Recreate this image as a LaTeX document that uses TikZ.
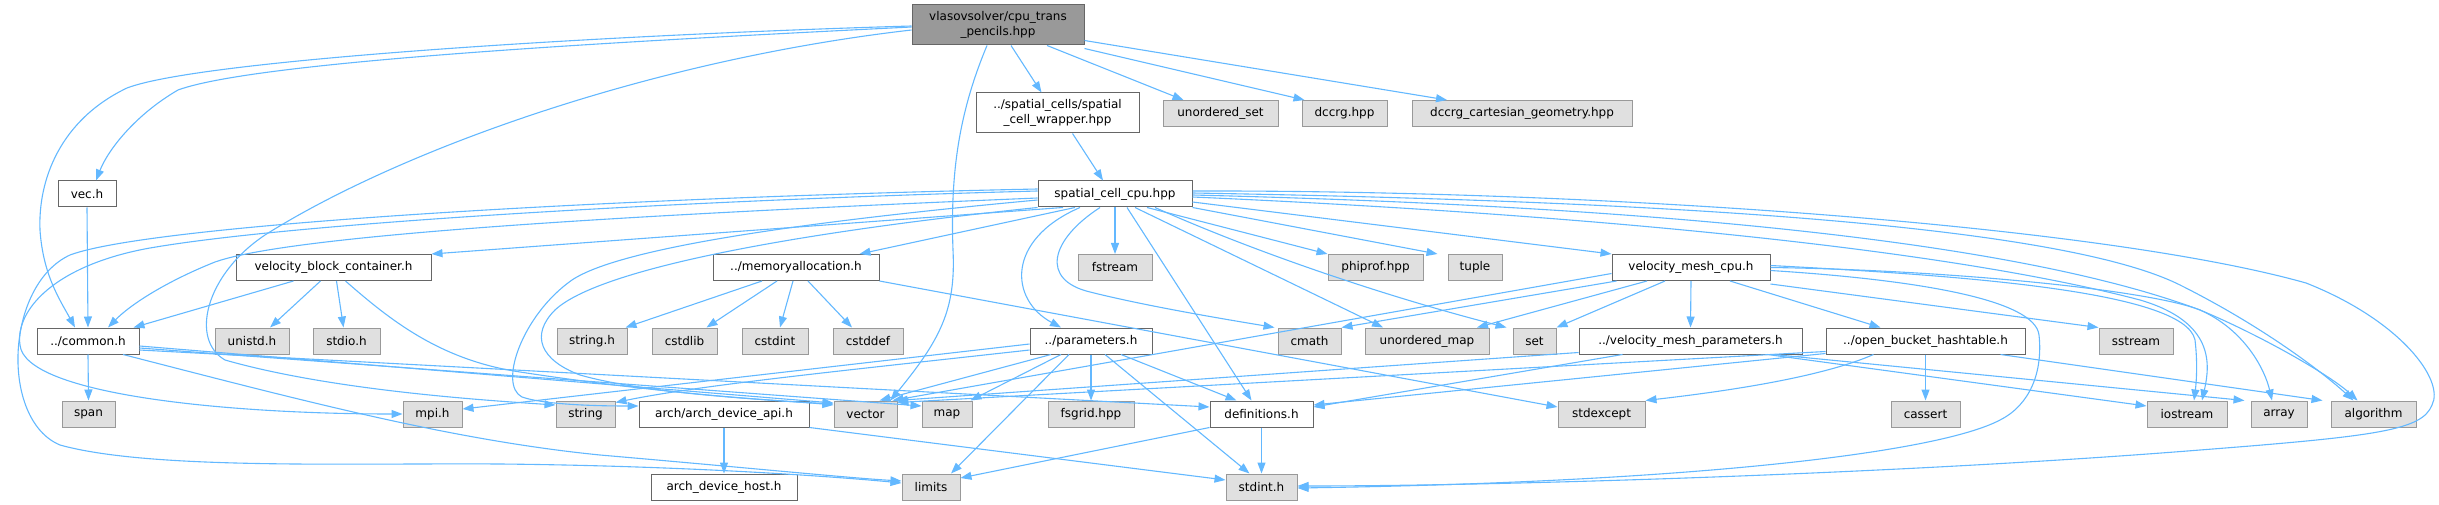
\documentclass[tikz,border=0pt]{standalone}
\usepackage{fontspec}
\setmainfont{DejaVu Sans}
\usetikzlibrary{arrows.meta}
\definecolor{edgec}{HTML}{63B8FF}
\definecolor{cdark}{HTML}{666666}
\definecolor{cmid}{HTML}{999999}
\definecolor{cfill}{HTML}{E0E0E0}
\tikzset{
  base/.style={draw, rectangle, line width=1pt, minimum height=26pt, inner sep=0pt,
    font=\fontsize{12}{15}\selectfont, text=black, align=center},
  wbox/.style={base, draw=cdark, fill=white},
  gbox/.style={base, draw=cmid, fill=cfill},
  rbox/.style={base, draw=cdark, fill=cmid},
  edge/.style={draw=edgec, line width=1.1pt, -{Triangle[length=11pt,width=8pt]}},
}
\begin{document}
\begin{tikzpicture}[x=1pt,y=-1pt]
\useasboundingbox (0,0) rectangle (2439,505);
% row 0
\node[rbox, minimum width=172pt, minimum height=40pt] (R) at (998,25) {vlasovsolver/cpu\_trans\\\_pencils.hpp};
% row 1
\node[wbox, minimum width=163pt, minimum height=40pt] (W) at (1057.5,113) {../spatial\_cells/spatial\\\_cell\_wrapper.hpp};
\node[gbox, minimum width=115pt] (US) at (1220.5,113.5) {unordered\_set};
\node[gbox, minimum width=85pt] (DC) at (1344.5,113.5) {dccrg.hpp};
\node[gbox, minimum width=220pt] (DCG) at (1522,113.5) {dccrg\_cartesian\_geometry.hpp};
% row 2
\node[wbox, minimum width=58pt] (vec) at (87,194) {vec.h};
\node[wbox, minimum width=154pt] (S) at (1115,194) {spatial\_cell\_cpu.hpp};
% row 3
\node[wbox, minimum width=195pt] (vbc) at (333.5,267.5) {velocity\_block\_container.h};
\node[wbox, minimum width=166pt] (M) at (796,267.5) {../memoryallocation.h};
\node[gbox, minimum width=74pt] (fstream) at (1115,267.5) {fstream};
\node[gbox, minimum width=95pt] (phiprof) at (1375.5,267.5) {phiprof.hpp};
\node[gbox, minimum width=54pt] (tuple) at (1475,267.5) {tuple};
\node[wbox, minimum width=158pt] (V) at (1691,267.5) {velocity\_mesh\_cpu.h};
% row 4
\node[wbox, minimum width=102pt] (common) at (88,341) {../common.h};
\node[gbox, minimum width=74pt] (unistd) at (252,341) {unistd.h};
\node[gbox, minimum width=67pt] (stdio) at (346.5,341) {stdio.h};
\node[gbox, minimum width=70pt] (stringh) at (592,341) {string.h};
\node[gbox, minimum width=65pt] (cstdlib) at (684.5,341) {cstdlib};
\node[gbox, minimum width=66pt] (cstdint) at (775,341) {cstdint};
\node[gbox, minimum width=70pt] (cstddef) at (868,341) {cstddef};
\node[wbox, minimum width=122pt] (P) at (1091,341) {../parameters.h};
\node[gbox, minimum width=63pt] (cmath) at (1309.5,341) {cmath};
\node[gbox, minimum width=124pt] (umap) at (1427,341) {unordered\_map};
\node[gbox, minimum width=43pt] (nset) at (1534.5,341) {set};
\node[wbox, minimum width=223pt] (vmp) at (1690.5,341) {../velocity\_mesh\_parameters.h};
\node[wbox, minimum width=199pt] (O) at (1925.5,341) {../open\_bucket\_hashtable.h};
\node[gbox, minimum width=74pt] (sstream) at (2136,341) {sstream};
% row 5
\node[gbox, minimum width=53pt] (span) at (88.5,414) {span};
\node[gbox, minimum width=59pt] (mpi) at (432.5,414) {mpi.h};
\node[gbox, minimum width=59pt] (nstring) at (585.5,414) {string};
\node[wbox, minimum width=170pt] (A) at (724,414) {arch/arch\_device\_api.h};
\node[gbox, minimum width=63pt] (nvector) at (865.5,414) {vector};
\node[gbox, minimum width=50pt] (nmap) at (947,414) {map};
\node[gbox, minimum width=86pt] (fsgrid) at (1091,414) {fsgrid.hpp};
\node[wbox, minimum width=103pt] (D) at (1261.5,414) {definitions.h};
\node[gbox, minimum width=87pt] (stdexcept) at (1601.5,414) {stdexcept};
\node[gbox, minimum width=69pt] (cassert) at (1925.5,414) {cassert};
\node[gbox, minimum width=80pt] (iostream) at (2187,414) {iostream};
\node[gbox, minimum width=56pt] (narray) at (2279,414) {array};
\node[gbox, minimum width=85pt] (algorithm) at (2373.5,414) {algorithm};
% row 6
\node[wbox, minimum width=146pt] (host) at (724,487) {arch\_device\_host.h};
\node[gbox, minimum width=58pt] (limits) at (931,487) {limits};
\node[gbox, minimum width=71pt] (stdint) at (1261.5,487) {stdint.h};

% ---- edges from root
\draw[edge] ([yshift=-2pt]R.west) .. controls (650,40) and (260,60) .. (178,90) .. controls (135,115) and (108,150) .. ([xshift=9pt]vec.north);
\draw[edge] ([yshift=-1pt]R.west) .. controls (600,35) and (200,60) .. (127,88) .. controls (60,120) and (38,180) .. (40,230) .. controls (43,275) and (60,300) .. ([xshift=-13pt]common.north);
\draw[edge] ([yshift=-5pt]R.west) .. controls (650,60) and (400,150) .. (265,235) .. controls (205,275) and (190,340) .. (225,360) .. controls (330,390) and (480,400) .. ([yshift=9pt]nstring.west);
\draw[edge] ([xshift=-11pt]R.south) .. controls (960,110) and (950,170) .. (953,250) .. controls (956,310) and (940,340) .. ([xshift=25pt]nvector.north);
\draw[edge] ([xshift=13pt]R.south) -- ([xshift=-16pt]W.north);
\draw[edge] ([xshift=49pt]R.south) -- ([xshift=-37pt]US.north);
\draw[edge] ([yshift=-3pt]R.south east) -- ([xshift=-40pt]DC.north);
\draw[edge] ([yshift=5pt]R.south east) -- ([xshift=-75pt]DCG.north);
% ---- misc
\draw[edge] (vec.south) -- (common.north);
\draw[edge] ([xshift=15pt]W.south) -- ([xshift=-12pt]S.north);
% ---- spatial_cell_cpu
\draw[edge] ([xshift=-52pt]S.south) -- (vbc.north east);
\draw[edge] ([yshift=-4pt]S.west) .. controls (700,212) and (300,232) .. (215,262) .. controls (165,282) and (130,305) .. ([xshift=20pt]common.north);
\draw[edge] ([yshift=3pt]S.west) .. controls (700,200) and (300,222) .. (150,248) .. controls (55,265) and (15,310) .. (20,345) .. controls (25,395) and (230,414) .. (mpi.west);
\draw[edge] ([yshift=5pt]S.west) .. controls (600,198) and (150,225) .. (70,255) .. controls (5,285) and (0,420) .. (60,445) .. controls (150,470) and (350,463) .. (500,464) .. controls (700,466) and (850,478) .. ([yshift=4pt]limits.west);
\draw[edge] ([yshift=-6pt]S.west) .. controls (800,222) and (620,248) .. (572,280) .. controls (522,315) and (498,385) .. (522,397) .. controls (545,405) and (600,406) .. ([yshift=8pt]A.west);
\draw[edge] (S.south west) .. controls (800,232) and (600,268) .. (555,310) .. controls (530,335) and (540,360) .. (580,375) .. controls (650,395) and (780,400) .. ([yshift=9pt]nvector.west);
\draw[edge] ([xshift=-40pt]S.south) -- ([xshift=-20pt]M.north east);
\draw[edge] ([xshift=-35pt]S.south) .. controls (1005,240) and (1010,300) .. ([xshift=-30pt]P.north);
\draw[edge] ([xshift=-15pt]S.south) .. controls (1050,240) and (1040,280) .. (1090,292) .. controls (1150,307) and (1230,320) .. ([xshift=-3pt]cmath.north west);
\draw[edge] (S.south) -- (fstream.north);
\draw[edge] ([xshift=12pt]S.south) -- ([xshift=-10pt]D.north);
\draw[edge] ([xshift=20pt]S.south) -- ([xshift=-44pt]umap.north);
\draw[edge] ([xshift=32pt]S.south) -- (phiprof.north west);
\draw[edge] ([xshift=40pt]S.south) .. controls (1250,250) and (1380,295) .. ([xshift=-6pt]nset.north west);
\draw[edge] (S.south east) -- ([xshift=-10pt]tuple.north west);
\draw[edge] ([yshift=-8pt]S.east) -- (V.north west);
\draw[edge] ([yshift=-3pt]S.east) .. controls (1600,215) and (1950,250) .. (2140,300) .. controls (2215,322) and (2210,365) .. ([xshift=15pt]iostream.north);
\draw[edge] ([yshift=-1pt]S.east) .. controls (1600,205) and (2000,235) .. (2200,310) .. controls (2245,330) and (2265,370) .. ([xshift=-7pt]narray.north);
\draw[edge] ([yshift=1pt]S.east) .. controls (1600,200) and (2050,220) .. (2180,285) .. controls (2260,325) and (2320,370) .. ([xshift=-20pt]algorithm.north);
\draw[edge] ([yshift=3pt]S.east) .. controls (1600,190) and (2100,225) .. (2306,283) .. controls (2400,320) and (2445,380) .. (2432,405) .. controls (2422,430) and (2380,436) .. (2200,450) .. controls (1900,474) and (1500,486) .. ([yshift=1pt]stdint.east);
% ---- velocity_mesh_cpu
\draw[edge] (V.south) -- (vmp.north);
\draw[edge] ([xshift=39pt]V.south) -- ([xshift=-45pt]O.north);
\draw[edge] ([xshift=-26pt]V.south) -- (nset.north east);
\draw[edge] ([xshift=-44pt]V.south) -- ([xshift=50pt]umap.north);
\draw[edge] ([xshift=5pt]V.south west) -- (cmath.north east);
\draw[edge] ([yshift=-6pt]V.west) -- ([xshift=-5pt]nvector.north east);
\draw[edge] ([yshift=-3pt]V.south east) -- (sstream.north west);
\draw[edge] ([yshift=2pt]V.east) .. controls (1950,275) and (2185,290) .. (2195,340) .. controls (2198,365) and (2196,385) .. ([xshift=7pt]iostream.north);
\draw[edge] ([yshift=0pt]V.east) .. controls (1950,270) and (2150,290) .. (2200,310) .. controls (2260,335) and (2330,375) .. ([xshift=-16pt]algorithm.north);
\draw[edge] ([yshift=-3pt]V.east) .. controls (1920,280) and (2035,300) .. (2039,335) .. controls (2043,372) and (2030,405) .. (2000,420) .. controls (1940,452) and (1700,482) .. ([yshift=-1pt]stdint.east);
% ---- velocity_mesh_parameters
\draw[edge] ([yshift=2pt]vmp.south west) -- ([xshift=-1pt]nvector.north east);
\draw[edge] ([xshift=-68pt]vmp.south) -- ([yshift=7pt]D.east);
\draw[edge] ([xshift=77pt]vmp.south) -- ([yshift=8pt]iostream.west);
\draw[edge] ([xshift=83pt]vmp.south) -- ([xshift=-6pt]narray.north west);
% ---- open_bucket_hashtable
\draw[edge] (O.south) -- (cassert.north);
\draw[edge] ([xshift=75pt]O.south) -- ([xshift=-8pt]algorithm.north west);
\draw[edge] ([xshift=-52pt]O.south) .. controls (1820,378) and (1720,392) .. (stdexcept.north east);
\draw[edge] ([yshift=3pt]O.south west) -- ([yshift=-2pt]nvector.north east);
\draw[edge] ([yshift=1pt]O.south west) -- ([yshift=9pt]D.east);
% ---- parameters
\draw[edge] ([yshift=-3pt]P.west) -- ([yshift=5pt]mpi.east);
\draw[edge] ([yshift=-9pt]P.west) .. controls (850,370) and (700,385) .. ([yshift=-2pt]nstring.north east);
\draw[edge] ([xshift=-40pt]P.south) -- ([xshift=14pt]nvector.north);
\draw[edge] ([xshift=-30pt]P.south) -- ([xshift=-2pt]nmap.north east);
\draw[edge] ([xshift=-22pt]P.south) -- ([xshift=20pt]limits.north);
\draw[edge] (P.south) -- (fsgrid.north);
\draw[edge] ([xshift=14pt]P.south) -- ([xshift=-12pt]stdint.north);
\draw[edge] ([xshift=30pt]P.south) -- ([xshift=-25pt]D.north);
% ---- definitions / arch
\draw[edge] (D.south west) -- ([yshift=9pt]limits.east);
\draw[edge] (D.south) -- (stdint.north);
\draw[edge] (A.south) -- (host.north);
\draw[edge] (A.south east) -- ([yshift=7pt]stdint.west);
% ---- common
\draw[edge] (common.south) -- (span.north);
\draw[edge] ([yshift=-5pt]common.east) -- ([yshift=11pt]nvector.west);
\draw[edge] ([yshift=-7pt]common.east) -- ([yshift=8pt]nmap.west);
\draw[edge] ([yshift=-9pt]common.east) -- ([yshift=7pt]D.west);
\draw[edge] ([xshift=35pt]common.south) .. controls (300,400) and (450,440) .. (600,455) .. controls (750,468) and (850,478) .. ([yshift=6pt]limits.west);
% ---- velocity_block_container
\draw[edge] ([xshift=-40pt]vbc.south) -- ([xshift=-6pt]common.north east);
\draw[edge] ([xshift=-13pt]vbc.south) -- ([xshift=18pt]unistd.north);
\draw[edge] ([xshift=3pt]vbc.south) -- ([xshift=-3pt]stdio.north);
\draw[edge] ([xshift=12pt]vbc.south) .. controls (390,320) and (440,360) .. (520,372) .. controls (650,392) and (760,400) .. ([yshift=10pt]nvector.west);
% ---- memoryallocation
\draw[edge] ([xshift=-34pt]M.south) -- ([xshift=-2pt]stringh.north east);
\draw[edge] ([xshift=-19pt]M.south) -- ([xshift=22pt]cstdlib.north);
\draw[edge] ([xshift=-3pt]M.south) -- ([xshift=5pt]cstdint.north);
\draw[edge] ([xshift=12pt]M.south) -- ([xshift=-16pt]cstddef.north);
\draw[edge] (M.south east) -- ([yshift=7pt]stdexcept.west);
\end{tikzpicture}
\end{document}
